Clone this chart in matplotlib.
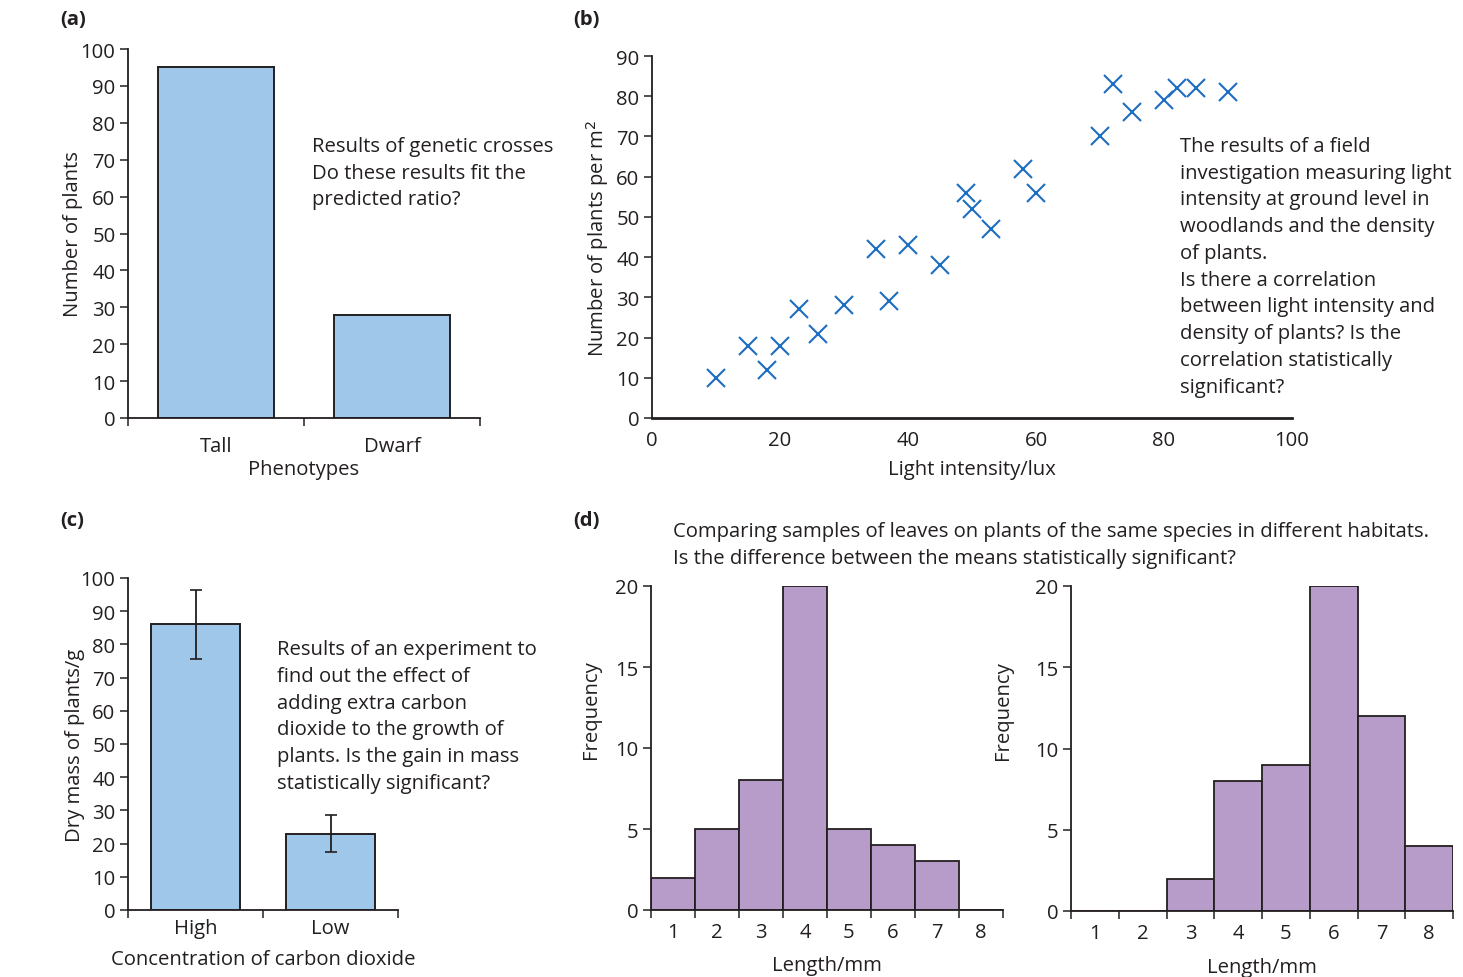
import numpy as np
import matplotlib
matplotlib.use("Agg")
import matplotlib.pyplot as plt

# (a) genetic crosses
phenotypes = ["Tall", "Dwarf"]
plant_counts = [95, 28]

# (b) light intensity vs plant density
light_lux = [10, 15, 18, 20, 23, 26, 30, 35, 37, 40, 45, 49, 50, 53, 58, 60,
             70, 72, 75, 80, 82, 85, 90]
plants_per_m2 = [10, 18, 12, 18, 27, 21, 28, 42, 29, 43, 38, 56, 52, 47, 62, 56,
                 70, 83, 76, 79, 82, 82, 81]

# (c) carbon dioxide experiment
co2_levels = ["High", "Low"]
dry_mass = [86, 23]
dry_mass_err = [10.5, 5.5]

# (d) leaf length histograms
length_classes = [1, 2, 3, 4, 5, 6, 7, 8]
freq_habitat1 = [2, 5, 8, 20, 5, 4, 3, 0]
freq_habitat2 = [0, 0, 2, 8, 9, 20, 12, 4]

TXT = "#231f20"
BLUE_BAR = "#9fc7e9"
PURPLE = "#b79bc9"
CROSS = "#1b6ec2"
FS = 14.6
LS = 1.45

plt.rcParams['font.family'] = ['Open Sans', 'DejaVu Sans']
plt.rcParams['font.size'] = FS
plt.rcParams['text.color'] = TXT
plt.rcParams['axes.labelcolor'] = TXT
plt.rcParams['xtick.color'] = TXT
plt.rcParams['ytick.color'] = TXT
plt.rcParams['axes.edgecolor'] = TXT

W, H = 1463, 978
fig = plt.figure(figsize=(W / 100, H / 100), dpi=100)


def px_axes(x0, y0, x1, y1):
    # pixel box (left, top, right, bottom) -> figure fraction axes
    return fig.add_axes([x0 / W, 1 - y1 / H, (x1 - x0) / W, (y1 - y0) / H])


def style(ax):
    for s in ["top", "right"]:
        ax.spines[s].set_visible(False)
    for s in ["left", "bottom"]:
        ax.spines[s].set_linewidth(1.3)
    ax.tick_params(direction="out", length=6, width=1.1, labelsize=FS, pad=3)


def category_bars(ax, labels, values, err=None):
    pos = np.arange(len(labels)) + 0.5
    ax.bar(pos, values, width=0.66, color=BLUE_BAR, edgecolor=TXT, linewidth=1.4,
           yerr=err, error_kw=dict(ecolor=TXT, elinewidth=1.3, capsize=4, capthick=1.2))
    ax.set_xlim(0, len(labels))
    ax.set_xticks(np.arange(len(labels) + 1))
    ax.set_xticklabels([])
    ax.set_xticks(pos, minor=True)
    ax.set_xticklabels(labels, minor=True)
    ax.tick_params(axis="x", which="minor", length=0, pad=13)
    ax.set_ylim(0, 100)
    ax.set_yticks(np.arange(0, 101, 10))


def text_block(x, y, s):
    fig.text(x / W, 1 - y / H, s, ha="left", va="top", fontsize=FS, linespacing=LS)


# ---- (a)
ax_a = px_axes(128, 50, 480, 419)
style(ax_a)
category_bars(ax_a, phenotypes, plant_counts)
ax_a.set_ylabel("Number of plants", fontsize=FS)
ax_a.yaxis.set_label_coords(-0.127, 0.5)
ax_a.set_xlabel("Phenotypes", fontsize=FS, labelpad=1.8)
text_block(312, 137, "Results of genetic crosses\nDo these results fit the\npredicted ratio?")

# ---- (b)
ax_b = px_axes(652, 57, 1292, 419)
style(ax_b)
ax_b.plot(light_lux, plants_per_m2, linestyle="none", marker="x", markersize=13,
          markeredgewidth=1.5, color=CROSS, clip_on=False)
ax_b.set_xlim(0, 100)
ax_b.set_ylim(0, 90)
ax_b.set_yticks(np.arange(0, 91, 10))
ax_b.set_xticks(np.arange(0, 101, 20))
ax_b.tick_params(axis="x", length=0, pad=9)
ax_b.spines["bottom"].set_linewidth(2.0)
ax_b.set_ylabel("Number of plants per m$^2$", fontsize=FS)
ax_b.yaxis.set_label_coords(-0.064, 0.5)
ax_b.set_xlabel("Light intensity/lux", fontsize=FS, labelpad=6)
text_block(1180, 137, "The results of a field\ninvestigation measuring light\n"
                      "intensity at ground level in\nwoodlands and the density\n"
                      "of plants.\nIs there a correlation\nbetween light intensity and\n"
                      "density of plants? Is the\ncorrelation statistically\nsignificant?")

# ---- (c)
ax_c = px_axes(128, 579, 398, 911)
style(ax_c)
category_bars(ax_c, co2_levels, dry_mass, dry_mass_err)
ax_c.tick_params(axis="x", which="minor", pad=6)
ax_c.set_ylabel("Dry mass of plants/g", fontsize=FS)
ax_c.yaxis.set_label_coords(-0.159, 0.5)
ax_c.set_xlabel("Concentration of carbon dioxide", fontsize=FS, labelpad=8)
text_block(277, 640, "Results of an experiment to\nfind out the effect of\nadding extra carbon\n"
                     "dioxide to the growth of\nplants. Is the gain in mass\nstatistically significant?")


# ---- (d)
def histogram(ax, freqs, label_x, xlabel_pad):
    style(ax)
    ax.bar(length_classes, freqs, width=1.0, color=PURPLE, edgecolor=TXT, linewidth=1.3)
    ax.set_xlim(0.5, 8.5)
    ax.set_ylim(0, 20)
    ax.set_yticks([0, 5, 10, 15, 20])
    ax.set_xticks(np.arange(0.5, 9, 1.0))
    ax.set_xticklabels([])
    ax.set_xticks(length_classes, minor=True)
    ax.set_xticklabels([str(c) for c in length_classes], minor=True)
    ax.tick_params(axis="x", which="minor", length=0, pad=8.5)
    ax.set_ylabel("Frequency", fontsize=FS)
    ax.yaxis.set_label_coords(label_x, 0.62)
    ax.set_xlabel("Length/mm", fontsize=FS, labelpad=xlabel_pad)


ax_d1 = px_axes(651, 587, 1003, 911)
histogram(ax_d1, freq_habitat1, -0.141, 9.5)
ax_d2 = px_axes(1071, 587, 1453, 912)
histogram(ax_d2, freq_habitat2, -0.153, 10.5)
fig.text(673 / W, 1 - 522 / H,
         "Comparing samples of leaves on plants of the same species in different habitats.\n"
         "Is the difference between the means statistically significant?",
         ha="left", va="top", fontsize=FS, linespacing=LS)

# panel letters
for lbl, x, y in [("(a)", 60, 20), ("(b)", 573, 20), ("(c)", 60, 521), ("(d)", 573, 521)]:
    fig.text(x / W, 1 - y / H, lbl, ha="left", va="center", fontsize=FS, fontweight="bold")

fig.savefig("out.png", dpi=100)
